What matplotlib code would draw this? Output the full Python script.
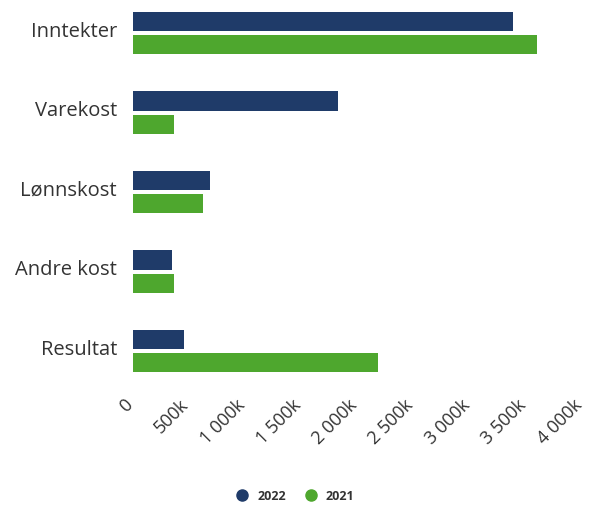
import numpy as np
import matplotlib.pyplot as plt
import matplotlib.transforms as mtransforms
from matplotlib.lines import Line2D
from matplotlib.ticker import FuncFormatter

categories = ["Inntekter", "Varekost", "Lønnskost", "Andre kost", "Resultat"]
values_2022 = [3375, 1825, 682, 344, 453]   # thousands NOK
values_2021 = [3588, 367, 622, 367, 2175]
xticks = [0, 500, 1000, 1500, 2000, 2500, 3000, 3500, 4000]

NAVY = "#1f3b69"
GREEN = "#4ea72e"
TEXT = "#333333"

plt.rcParams["font.family"] = ["Open Sans", "DejaVu Sans"]

fig = plt.figure(figsize=(5.89, 5.10), dpi=100)
# axes spans x 133..583 px, y 0..392 px
ax = fig.add_axes([133 / 589, 1 - 392 / 510, 450 / 589, 392 / 510])

y = np.arange(len(categories))
h = 0.24
off = 0.145
ax.barh(y - off, values_2022, height=h, color=NAVY, label="2022")
ax.barh(y + off, values_2021, height=h, color=GREEN, label="2021")

ax.set_xlim(0, 4000)
ax.set_ylim(4.503, -0.428)
ax.set_yticks(y)
ax.set_yticklabels(categories, fontsize=14.5, color=TEXT)
ax.set_xticks(xticks)
ax.xaxis.set_major_formatter(FuncFormatter(
    lambda v, p: "0" if v == 0 else f"{int(v):,}k".replace(",", " ")))
ax.tick_params(axis="y", length=0, pad=11.5)
ax.tick_params(axis="x", length=0, pad=2)
for s in ax.spines.values():
    s.set_visible(False)

# nudge category labels up a little
up = mtransforms.ScaledTranslation(0, 5 / 100, fig.dpi_scale_trans)
for lab in ax.get_yticklabels():
    lab.set_transform(lab.get_transform() + up)

left = mtransforms.ScaledTranslation(-10 / 100, -1 / 100, fig.dpi_scale_trans)
for lab in ax.get_xticklabels():
    lab.set_rotation(45)
    lab.set_ha("right")
    lab.set_va("top")
    lab.set_rotation_mode("anchor")
    lab.set_fontsize(13)
    lab.set_color(TEXT)
    lab.set_transform(lab.get_transform() + left)

handles = [Line2D([], [], marker="o", ls="none", color=NAVY, ms=8, label="2022"),
           Line2D([], [], marker="o", ls="none", color=GREEN, ms=8, label="2021")]
leg = fig.legend(handles=handles, loc="center", bbox_to_anchor=(292 / 589, 1 - 497 / 510),
                 ncol=2, frameon=False, handletextpad=0.2, columnspacing=1.0,
                 prop={"size": 9, "weight": "bold"})
for t in leg.get_texts():
    t.set_color(TEXT)

fig.savefig("out.png", dpi=100)
